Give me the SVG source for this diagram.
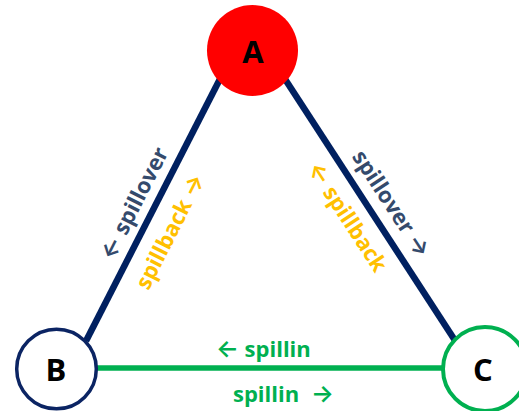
<svg xmlns="http://www.w3.org/2000/svg" width="519" height="411" viewBox="0 0 519 411">
  <style>
    .edge { stroke-linecap: butt; fill: none; }
    .navy { stroke: #002060; stroke-width: 6.5; }
    .green { stroke: #00B050; stroke-width: 5.5; }
    .lbl { font-family: "Open Sans", "DejaVu Sans", sans-serif; font-weight: bold; font-size: 22px; }
    .arr { font-family: Inter, "DejaVu Sans", sans-serif; font-weight: 600; font-size: 24px; }
    .node-lbl { font-family: "Open Sans", "Liberation Sans", sans-serif; font-weight: bold; font-size: 31px; fill: #000; text-anchor: middle; }
    .over { fill: #344A6C; }
    .back { fill: #FFC000; }
    .in { fill: #00B050; }
  </style>

  <g id="connectors">
    <line class="edge navy" x1="222" y1="75" x2="86" y2="341"/>
    <line class="edge navy" x1="283" y1="76" x2="456" y2="342"/>
    <line class="edge green" x1="95" y1="368" x2="446" y2="368"/>

    <text class="lbl over" text-anchor="middle" transform="translate(141,207) rotate(-63)"><tspan class="arr">←</tspan> spillover</text>
    <text class="lbl back" text-anchor="middle" transform="translate(177,235) rotate(-63)">spillback <tspan class="arr">→</tspan></text>
    <text class="lbl over" text-anchor="middle" transform="translate(385,208) rotate(57)">spillover <tspan class="arr">→</tspan></text>
    <text class="lbl back" text-anchor="middle" transform="translate(341,221) rotate(57)"><tspan class="arr">←</tspan> spillback</text>
    <text class="lbl in" x="216" y="357"><tspan class="arr">←</tspan> spillin</text>
    <text class="lbl in" x="233" y="402">spillin <tspan class="arr" dx="6">→</tspan></text>
  </g>

  <g id="node-A">
    <circle cx="252.5" cy="50.5" r="45.5" fill="#FF0000"/>
    <text class="node-lbl" x="253" y="63">A</text>
  </g>

  <g id="node-B">
    <circle cx="56.5" cy="369" r="39.8" fill="#FFFFFF" stroke="#0B2463" stroke-width="3.5"/>
    <text class="node-lbl" x="56" y="381">B</text>
  </g>

  <g id="node-C">
    <circle cx="485" cy="369" r="42" fill="#FFFFFF" stroke="#00B050" stroke-width="4"/>
    <text class="node-lbl" x="483" y="381">C</text>
  </g>
</svg>
